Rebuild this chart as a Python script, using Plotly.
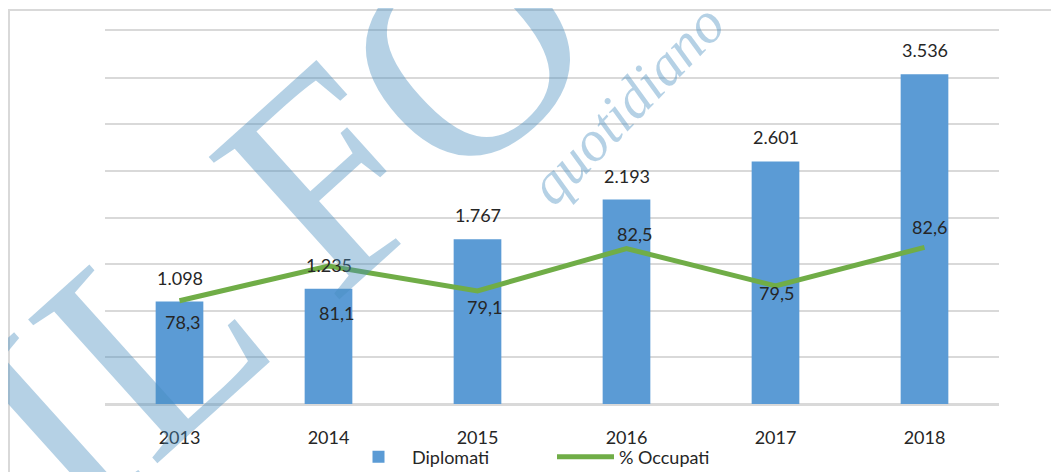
import plotly.graph_objects as go

# ---- data ----
years = ["2013", "2014", "2015", "2016", "2017", "2018"]
diplomati = [1098, 1235, 1767, 2193, 2601, 3536]
occupati = [78.3, 81.1, 79.1, 82.5, 79.5, 82.6]

# ---- style ----
BAR_COLOR = "#5B9BD5"
LINE_COLOR = "#70AD47"
GRID = "#D9D9D9"
TXT = "#262626"
FONT = "Lato"
WM = "rgba(70,140,190,0.40)"

# label offsets for the line labels (pixels: x right, y up)
occ_xshift = [3, 8, 7, 8, 1, 5]
occ_yshift = [-21, -47, -16, 15, -7, 20]


def it_thousands(v):
    return f"{v:,}".replace(",", ".")


def it_decimal(v):
    return f"{v:.1f}".replace(".", ",")


fig = go.Figure()
fig.add_trace(go.Bar(
    x=years, y=diplomati, name="Diplomati",
    marker=dict(color=BAR_COLOR, line=dict(width=0)),
    width=0.32, yaxis="y",
))
fig.add_trace(go.Scatter(
    x=years, y=occupati, name="% Occupati", mode="lines",
    line=dict(color=LINE_COLOR, width=5), yaxis="y2",
))

annotations = []
for i, v in enumerate(diplomati):
    annotations.append(dict(
        x=i, y=v, xref="x", yref="y", text=it_thousands(v),
        showarrow=False, yanchor="bottom", xanchor="center", yshift=11,
        font=dict(family=FONT, size=18, color=TXT),
    ))
for i, (v, dx, dy) in enumerate(zip(occupati, occ_xshift, occ_yshift)):
    annotations.append(dict(
        x=i, y=v, xref="x", yref="y2", text=it_decimal(v),
        showarrow=False, yanchor="middle", xanchor="center",
        xshift=dx, yshift=dy,
        font=dict(family=FONT, size=18, color=TXT),
    ))

# watermark
annotations.append(dict(
    x=0.1935, y=0.493, xref="paper", yref="paper", text="IL FO",
    showarrow=False, textangle=-42, xanchor="center", yanchor="middle",
    font=dict(family="Liberation Serif", size=295, color=WM),
))
annotations.append(dict(
    x=0.583, y=0.804, xref="paper", yref="paper", text="<i>quotidiano</i>",
    showarrow=False, textangle=-46, xanchor="center", yanchor="middle",
    font=dict(family="Liberation Serif", size=58, color=WM),
))

# the page body adds an 8px margin, so the figure is 8px smaller each way
fig.update_layout(
    width=1051, height=464,
    margin=dict(l=97, r=60, t=23, b=68, autoexpand=False),
    paper_bgcolor="white", plot_bgcolor="white",
    separators=",.",
    showlegend=True,
    legend=dict(orientation="h", x=0.5, xanchor="center", y=-0.142,
                yanchor="middle", font=dict(family=FONT, size=18, color=TXT),
                itemwidth=57, entrywidth=135, bgcolor="rgba(0,0,0,0)"),
    xaxis=dict(type="category", showgrid=False, ticks="",
               showline=True, mirror=True, linecolor=GRID, linewidth=2,
               tickfont=dict(family=FONT, size=18, color=TXT),
               ticklabelstandoff=16, range=[-0.5, 5.5]),
    yaxis=dict(range=[0, 4000], tick0=0, dtick=500, showgrid=True, gridcolor=GRID,
               gridwidth=2, zeroline=True, zerolinecolor=GRID, zerolinewidth=2,
               showticklabels=False, ticks="", showline=False),
    yaxis2=dict(range=[70, 100], overlaying="y", side="right", visible=False,
                showgrid=False),
    annotations=annotations,
    shapes=[dict(type="rect", xref="paper", yref="paper",
                 x0=-0.1074, x1=1.2, y0=-0.4, y1=1.0563,
                 line=dict(color=GRID, width=2), layer="below")],
    font=dict(family=FONT),
)

fig.write_html("out.html")
